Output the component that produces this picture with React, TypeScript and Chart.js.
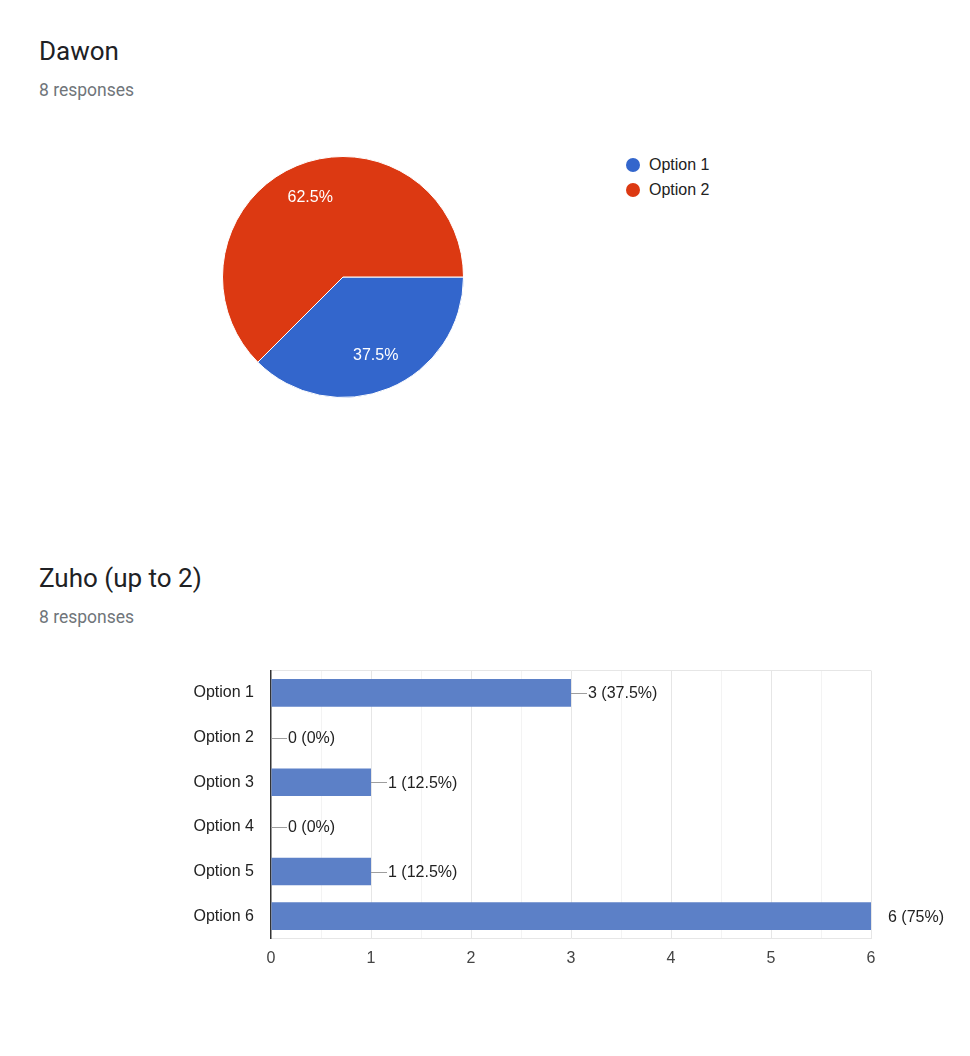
import React, { useEffect, useRef } from 'react';
import { Chart, registerables } from 'chart.js';

Chart.register(...registerables);

const FONT = '"Liberation Sans", Arial, sans-serif';
const TITLE_FONT = 'Roboto, "Noto Sans", sans-serif';

// Pie question
const pieTitle = 'Dawon';
const pieResponses = 8;
const pieLabels = ['Option 1', 'Option 2'];
const pieValues = [3, 5];
const pieColors = ['#3366CC', '#DC3912'];

// Bar question
const barTitle = 'Zuho (up to 2)';
const barResponses = 8;
const barLabels = ['Option 1', 'Option 2', 'Option 3', 'Option 4', 'Option 5', 'Option 6'];
const barValues = [3, 0, 1, 0, 1, 6];
const barColor = '#5C80C7';
const xTickValues = [0, 1, 2, 3, 4, 5, 6];

const fmtPct = (p: number) => (Number.isInteger(p) ? String(p) : p.toFixed(1));

const pieLabelPlugin = {
  id: 'pieLabels',
  afterDatasetsDraw(chart: any) {
    const meta = chart.getDatasetMeta(0);
    const data = chart.data.datasets[0].data as number[];
    const total = data.reduce((a, b) => a + b, 0);
    const ctx = chart.ctx;
    ctx.save();
    ctx.font = `16px ${FONT}`;
    ctx.fillStyle = '#ffffff';
    ctx.textAlign = 'center';
    ctx.textBaseline = 'middle';
    meta.data.forEach((arc: any, i: number) => {
      const p = arc.getProps(['x', 'y', 'startAngle', 'endAngle', 'outerRadius'], true);
      const mid = (p.startAngle + p.endAngle) / 2;
      const r = p.outerRadius * 0.71;
      ctx.fillText(fmtPct((data[i] / total) * 100) + '%', p.x + Math.cos(mid) * r, p.y + Math.sin(mid) * r);
    });
    ctx.restore();
  },
};

const barLabelPlugin = {
  id: 'barLabels',
  afterDatasetsDraw(chart: any) {
    const meta = chart.getDatasetMeta(0);
    const data = chart.data.datasets[0].data as number[];
    const max = chart.scales.x.max;
    const ctx = chart.ctx;
    ctx.save();
    ctx.font = `16px ${FONT}`;
    ctx.textAlign = 'left';
    ctx.textBaseline = 'middle';
    meta.data.forEach((bar: any, i: number) => {
      const p = bar.getProps(['x', 'y'], true);
      const v = data[i];
      if (v < max) {
        ctx.strokeStyle = '#9e9e9e';
        ctx.lineWidth = 1;
        ctx.beginPath();
        ctx.moveTo(p.x, Math.round(p.y) + 0.5);
        ctx.lineTo(p.x + 16, Math.round(p.y) + 0.5);
        ctx.stroke();
      }
      ctx.fillStyle = '#222222';
      ctx.fillText(`${v} (${fmtPct((v / barResponses) * 100)}%)`, p.x + 17, p.y + 1);
    });
    ctx.restore();
  },
};

function PieChart() {
  const ref = useRef<HTMLCanvasElement>(null);
  useEffect(() => {
    const chart = new Chart(ref.current as HTMLCanvasElement, {
      type: 'pie',
      data: {
        labels: pieLabels,
        datasets: [
          {
            data: pieValues,
            backgroundColor: pieColors,
            borderColor: '#ffffff',
            borderWidth: 1,
          },
        ],
      },
      options: {
        animation: false,
        responsive: false,
        rotation: 90,
        layout: { padding: 4 },
        plugins: { legend: { display: false }, tooltip: { enabled: false } },
      },
      plugins: [pieLabelPlugin],
    } as any);
    return () => chart.destroy();
  }, []);
  return (
    <canvas
      ref={ref}
      width={250}
      height={250}
      style={{ position: 'absolute', left: 218, top: 152, width: 250, height: 250 }}
    />
  );
}

function BarChart() {
  const ref = useRef<HTMLCanvasElement>(null);
  useEffect(() => {
    const chart = new Chart(ref.current as HTMLCanvasElement, {
      type: 'bar',
      data: {
        labels: barLabels,
        datasets: [
          {
            data: barValues,
            backgroundColor: barColor,
            borderWidth: 0,
            categoryPercentage: 1,
            barPercentage: 0.62,
          },
        ],
      },
      options: {
        indexAxis: 'y',
        animation: false,
        responsive: false,
        layout: { padding: { left: 0, right: 99, top: 12, bottom: 0 } },
        plugins: { legend: { display: false }, tooltip: { enabled: false } },
        scales: {
          x: {
            min: xTickValues[0],
            max: xTickValues[xTickValues.length - 1],
            ticks: {
              stepSize: 0.5,
              autoSkip: false,
              maxRotation: 0,
              padding: 10,
              color: '#444444',
              font: { family: FONT, size: 16 },
              callback: (v: any) => (xTickValues.includes(v) ? String(v) : ''),
            },
            grid: {
              drawTicks: false,
              color: (c: any) => {
                const v = c.tick ? c.tick.value : 0;
                if (v === 0) return 'rgba(0,0,0,0)';
                return Number.isInteger(v) ? '#e6e6e6' : '#f3f3f3';
              },
            },
            border: { display: true, color: '#e6e6e6' },
            afterFit: (s: any) => {
              s.height = 61.5;
            },
          },
          y: {
            ticks: { padding: 17, color: '#222222', font: { family: FONT, size: 16 } },
            grid: {
              drawTicks: false,
              color: (c: any) => (c.index === 0 ? '#e6e6e6' : 'rgba(0,0,0,0)'),
            },
            border: { display: true, color: '#333333', width: 1.5 },
            afterFit: (s: any) => {
              s.width = 121;
            },
          },
        },
      },
      plugins: [barLabelPlugin],
    } as any);
    return () => chart.destroy();
  }, []);
  return (
    <canvas
      ref={ref}
      width={820}
      height={356}
      style={{ position: 'absolute', left: 150, top: 644, width: 820, height: 356 }}
    />
  );
}

const titleStyle: React.CSSProperties = {
  position: 'absolute',
  left: 39,
  fontFamily: TITLE_FONT,
  fontSize: 26,
  lineHeight: '26px',
  color: '#202124',
  whiteSpace: 'nowrap',
};
const subStyle: React.CSSProperties = {
  position: 'absolute',
  left: 39,
  fontFamily: TITLE_FONT,
  fontSize: 17.5,
  lineHeight: '18px',
  color: '#70757a',
  whiteSpace: 'nowrap',
};

export default function App() {
  return (
    <div
      style={{
        position: 'absolute',
        left: 0,
        top: 0,
        width: 970,
        height: 1056,
        background: '#ffffff',
        overflow: 'hidden',
      }}
    >
      <div style={{ ...titleStyle, top: 38 }}>{pieTitle}</div>
      <div style={{ ...subStyle, top: 81 }}>{pieResponses} responses</div>
      <PieChart />
      {pieLabels.map((l, i) => (
        <div key={l}>
          <div
            style={{
              position: 'absolute',
              left: 626,
              top: 158 + i * 25,
              width: 14,
              height: 14,
              borderRadius: 7,
              background: pieColors[i],
            }}
          />
          <div
            style={{
              position: 'absolute',
              left: 649,
              top: 157 + i * 25,
              fontFamily: FONT,
              fontSize: 16,
              lineHeight: '16px',
              color: '#222222',
              whiteSpace: 'nowrap',
            }}
          >
            {l}
          </div>
        </div>
      ))}
      <div style={{ ...titleStyle, top: 565 }}>{barTitle}</div>
      <div style={{ ...subStyle, top: 608 }}>{barResponses} responses</div>
      <BarChart />
    </div>
  );
}
